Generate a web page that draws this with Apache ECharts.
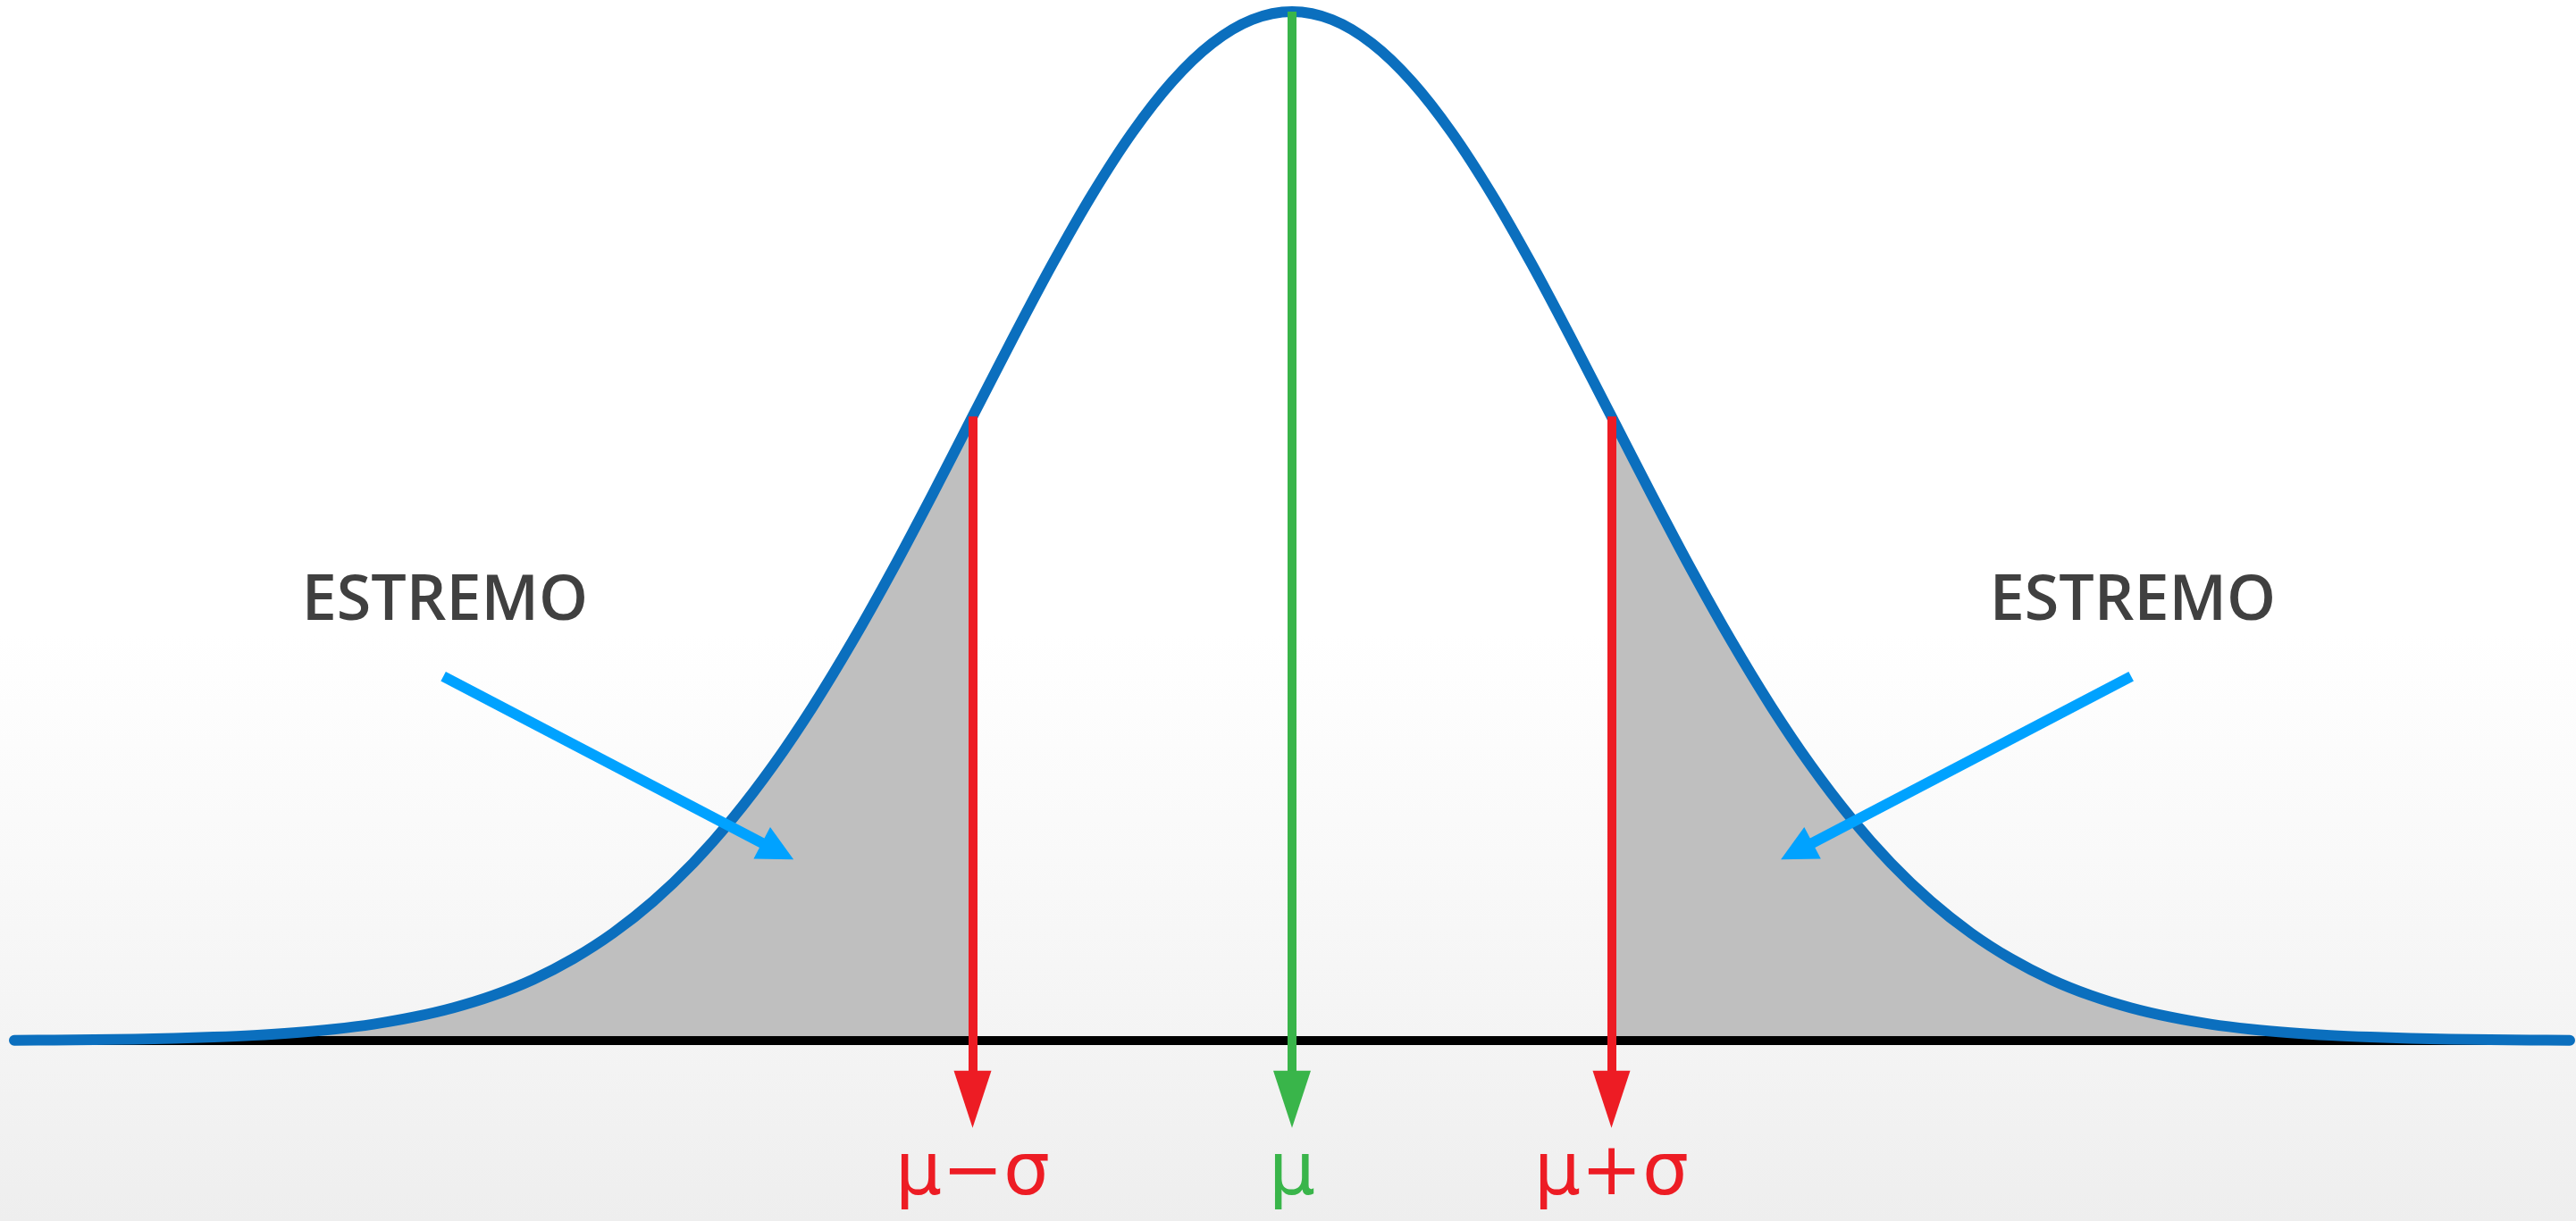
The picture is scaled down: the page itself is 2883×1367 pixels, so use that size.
<!DOCTYPE html>
<html>
<head>
<meta charset="utf-8">
<script src="https://cdn.jsdelivr.net/npm/echarts@6/dist/echarts.min.js"></script>
<style>
  html, body { margin: 0; padding: 0; }
  #chart { width: 2883px; height: 1367px; }
</style>
</head>
<body>
<div id="chart"></div>
<script>
// x in units of sigma, height relative to the peak
const xs = [-4, -3.875, -3.75, -3.625, -3.5, -3.375, -3.25, -3.125, -3, -2.875, -2.75, -2.625, -2.5,
  -2.375, -2.25, -2.125, -2, -1.875, -1.75, -1.625, -1.5, -1.375, -1.25, -1.125, -1,
  -0.875, -0.75, -0.625, -0.5, -0.375, -0.25, -0.125, 0, 0.125, 0.25, 0.375, 0.5, 0.625, 0.75, 0.875,
  1, 1.125, 1.25, 1.375, 1.5, 1.625, 1.75, 1.875, 2, 2.125, 2.25, 2.375, 2.5, 2.625, 2.75, 2.875,
  3, 3.125, 3.25, 3.375, 3.5, 3.625, 3.75, 3.875, 4];
const curveY = [0.0003, 0.0005, 0.0009, 0.0014, 0.0022, 0.0034, 0.0051, 0.0076, 0.0111, 0.0160, 0.0228, 0.0319, 0.0439,
  0.0595, 0.0796, 0.1046, 0.1353, 0.1724, 0.2163, 0.2671, 0.3247, 0.3886, 0.4578, 0.5311, 0.6065,
  0.6818, 0.7548, 0.8226, 0.8825, 0.9321, 0.9692, 0.9922, 1.0000, 0.9922, 0.9692, 0.9321, 0.8825, 0.8226, 0.7548, 0.6818,
  0.6065, 0.5311, 0.4578, 0.3886, 0.3247, 0.2671, 0.2163, 0.1724, 0.1353, 0.1046, 0.0796, 0.0595, 0.0439, 0.0319, 0.0228, 0.0160,
  0.0111, 0.0076, 0.0051, 0.0034, 0.0022, 0.0014, 0.0009, 0.0005, 0.0003];

const sigmaNames = ['μ−σ', 'μ', 'μ+σ'];
const sigmaX = [-1, 0, 1];

const tailNames = ['ESTREMO', 'ESTREMO'];
const tailLabelAt = [[-2.652, 0.426], [2.632, 0.426]];
const tailArrows = [
  [[-2.657, 0.354], [-1.610, 0.184]],
  [[2.627, 0.354], [1.580, 0.184]]
];

const labelY = -0.131;   // where the μ / σ labels sit
const arrowEndY = -0.057; // centre of the arrow heads under the axis

const RED = '#ed1c24';
const GREEN = '#39b54a';
const SMOOTH = 0.33;

const curve = xs.map((x, i) => [x, curveY[i]]);
const leftTail = curve.filter(p => p[0] <= -1);
const rightTail = curve.filter(p => p[0] >= 1);

function yAt(x) {
  return curveY[xs.indexOf(x)];
}

const chart = echarts.init(document.getElementById('chart'));

const option = {
  animation: false,
  backgroundColor: {
    type: 'linear', x: 0, y: 0, x2: 0, y2: 1,
    colorStops: [
      { offset: 0, color: '#ffffff' },
      { offset: 0.52, color: '#ffffff' },
      { offset: 0.85, color: '#f4f4f4' },
      { offset: 1, color: '#eeeeee' }
    ]
  },
  grid: { left: 16, right: 7, top: 13, bottom: 29.2 },
  xAxis: { type: 'value', min: -4, max: 4, show: false },
  yAxis: { type: 'value', min: -0.15, max: 1, show: false },
  series: [
    {
      name: 'left tail',
      type: 'line',
      data: leftTail,
      smooth: SMOOTH,
      symbol: 'none',
      lineStyle: { width: 0 },
      areaStyle: { color: '#bfbfbf', opacity: 1 },
      z: 1,
      silent: true
    },
    {
      name: 'right tail',
      type: 'line',
      data: rightTail,
      smooth: SMOOTH,
      symbol: 'none',
      lineStyle: { width: 0 },
      areaStyle: { color: '#bfbfbf', opacity: 1 },
      z: 1,
      silent: true
    },
    {
      name: 'baseline',
      type: 'line',
      data: [[xs[0], 0], [xs[xs.length - 1], 0]],
      symbol: 'none',
      lineStyle: { color: '#000000', width: 10 },
      z: 2,
      silent: true
    },
    {
      name: 'markers',
      type: 'line',
      data: [],
      z: 3,
      clip: false,
      markLine: {
        silent: true,
        symbol: ['none', 'triangle'],
        symbolSize: [42, 64],
        label: { show: false },
        data: sigmaX.map(x => [
          { coord: [x, yAt(x)], lineStyle: { color: x === 0 ? GREEN : RED, width: 10, type: 'solid' }, itemStyle: { color: x === 0 ? GREEN : RED } },
          { coord: [x, arrowEndY] }
        ])
      }
    },
    {
      name: 'curve',
      type: 'line',
      data: curve,
      smooth: SMOOTH,
      symbol: 'none',
      clip: false,
      lineStyle: { color: '#0b6fbe', width: 12, cap: 'round', join: 'round' },
      z: 4,
      silent: true
    },
    {
      name: 'pointers',
      type: 'line',
      data: [],
      z: 5,
      markLine: {
        silent: true,
        symbol: ['none', 'triangle'],
        symbolSize: [40, 40],
        label: { show: false },
        lineStyle: { color: '#00a2ff', width: 12, type: 'solid', cap: 'butt' },
        itemStyle: { color: '#00a2ff' },
        data: tailArrows.map(a => [{ coord: a[0] }, { coord: a[1] }])
      }
    },
    {
      name: 'tail labels',
      type: 'scatter',
      symbolSize: 0,
      z: 6,
      silent: true,
      itemStyle: { opacity: 1 },
      data: tailLabelAt.map((p, i) => ({ value: p, name: tailNames[i] })),
      label: {
        show: true,
        position: 'inside',
        formatter: '{b}',
        fontFamily: 'Open Sans',
        fontWeight: 600,
        fontSize: 70,
        color: '#404040',
        opacity: 1
      }
    },
    {
      name: 'sigma labels',
      type: 'scatter',
      symbolSize: 0,
      z: 6,
      silent: true,
      itemStyle: { opacity: 1 },
      data: sigmaX.map((x, i) => ({
        value: [x, labelY],
        name: sigmaNames[i],
        label: { color: x === 0 ? GREEN : RED }
      })),
      label: {
        show: true,
        position: 'inside',
        formatter: '{b}',
        fontFamily: 'DejaVu Sans',
        fontSize: 82,
        opacity: 1
      }
    }
  ]
};

chart.setOption(option);
</script>
</body>
</html>
